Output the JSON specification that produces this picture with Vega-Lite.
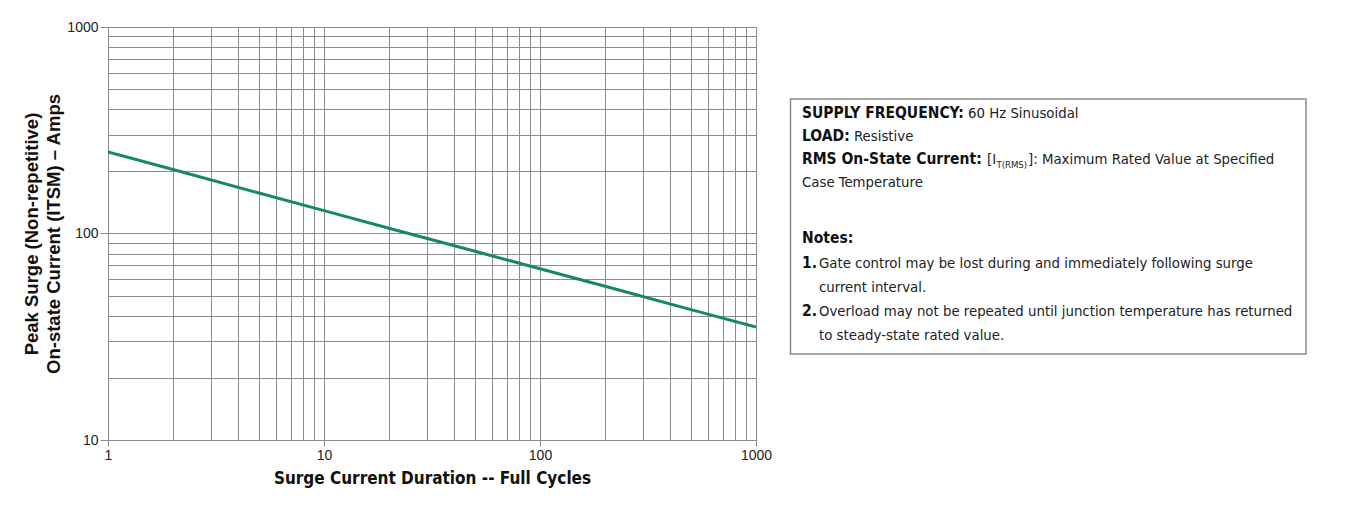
{
  "$schema": "https://vega.github.io/schema/vega-lite/v6.json",
  "background": "white",
  "padding": {"left": 22, "top": 19, "right": 5, "bottom": 5},
  "bounds": "flush",
  "spacing": 34,
  "config": {"view": {"stroke": null}},
  "datasets": {
    "surge": [
      {"cycles": 1, "amps": 248},
      {"cycles": 2, "amps": 204},
      {"cycles": 5, "amps": 157},
      {"cycles": 10, "amps": 129},
      {"cycles": 20, "amps": 106},
      {"cycles": 50, "amps": 82},
      {"cycles": 100, "amps": 67.5},
      {"cycles": 200, "amps": 55.5},
      {"cycles": 500, "amps": 42.8},
      {"cycles": 1000, "amps": 35.2}
    ],
    "notes": [
      {"x": 12, "y": 90.5, "t": "SUPPLY FREQUENCY:", "s": "b"},
      {"x": 178, "y": 90.5, "t": "60 Hz Sinusoidal", "s": "r"},
      {"x": 12, "y": 113.5, "t": "LOAD:", "s": "b"},
      {"x": 64, "y": 113.5, "t": "Resistive", "s": "r"},
      {"x": 12, "y": 136.5, "t": "RMS On-State Current:", "s": "b"},
      {"x": 197, "y": 136.5, "t": "[I", "s": "r"},
      {"x": 206.5, "y": 140.5, "t": "T(RMS)", "s": "sub"},
      {"x": 238, "y": 136.5, "t": "]: Maximum Rated Value at Specified", "s": "r"},
      {"x": 12, "y": 159.5, "t": "Case Temperature", "s": "r"},
      {"x": 12, "y": 215.5, "t": "Notes:", "s": "b"},
      {"x": 12, "y": 240.5, "t": "1.", "s": "b"},
      {"x": 29, "y": 240.5, "t": "Gate control may be lost during and immediately following surge", "s": "r"},
      {"x": 29, "y": 264.5, "t": "current interval.", "s": "r"},
      {"x": 12, "y": 288.5, "t": "2.", "s": "b"},
      {"x": 29, "y": 288.5, "t": "Overload may not be repeated until junction temperature has returned", "s": "r"},
      {"x": 29, "y": 312.5, "t": "to steady-state rated value.", "s": "r"}
    ],
    "box": [{"x": 0.5, "x2": 516, "y": 72, "y2": 327}]
  },
  "hconcat": [
    {
      "width": 648,
      "height": 413,
      "view": {"stroke": "#8c8c8c"},
      "data": {"name": "surge"},
      "mark": {"type": "line", "color": "#168a5c", "strokeWidth": 3, "clip": true},
      "encoding": {
        "x": {
          "field": "cycles",
          "type": "quantitative",
          "scale": {"type": "log", "domain": [1, 1000], "nice": false},
          "axis": {
            "title": "Surge Current Duration -- Full Cycles",
            "titleFont": "DejaVu Sans Condensed, sans-serif",
            "titleFontSize": 17,
            "titleFontWeight": "bold",
            "titleColor": "#111",
            "titlePadding": 8,
            "values": [1,2,3,4,5,6,7,8,9,10,20,30,40,50,60,70,80,90,100,200,300,400,500,600,700,800,900,1000],
            "labelExpr": "indexof([1,10,100,1000], datum.value) >= 0 ? format(datum.value, 'd') : ''",
            "labelOverlap": false,
            "labelFlush": false,
            "labelFont": "Liberation Sans, Arial, sans-serif",
            "labelFontSize": 14,
            "labelColor": "#222",
            "labelPadding": 2,
            "tickSize": 6,
            "tickColor": "#8c8c8c",
            "tickOpacity": {"condition": {"test": "indexof([1,10,100,1000], datum.value) >= 0", "value": 1}, "value": 0},
            "domainColor": "#8c8c8c",
            "grid": true,
            "gridColor": "#8c8c8c",
            "gridWidth": 1,
            "gridOpacity": 1
          }
        },
        "y": {
          "field": "amps",
          "type": "quantitative",
          "scale": {"type": "log", "domain": [10, 1000], "nice": false},
          "axis": {
            "title": ["Peak Surge (Non-repetitive)", "On-state Current (ITSM) – Amps"],
            "titleFont": "Liberation Sans, Arial, sans-serif",
            "titleFontSize": 18.5,
            "titleFontWeight": "bold",
            "titleColor": "#111",
            "titleLineHeight": 22,
            "titlePadding": 3,
            "values": [10,20,30,40,50,60,70,80,90,100,200,300,400,500,600,700,800,900,1000],
            "labelExpr": "indexof([10,100,1000], datum.value) >= 0 ? format(datum.value, 'd') : ''",
            "labelOverlap": false,
            "labelFlush": false,
            "labelFont": "Liberation Sans, Arial, sans-serif",
            "labelFontSize": 14,
            "labelColor": "#222",
            "labelPadding": 2,
            "tickSize": 8,
            "tickColor": "#8c8c8c",
            "tickOpacity": {"condition": {"test": "indexof([10,100,1000], datum.value) >= 0", "value": 1}, "value": 0},
            "domainColor": "#8c8c8c",
            "grid": true,
            "gridColor": "#8c8c8c",
            "gridWidth": 1,
            "gridOpacity": 1
          }
        }
      }
    },
    {
      "width": 520,
      "height": 413,
      "layer": [
        {
          "data": {"name": "box"},
          "mark": {"type": "rect", "fill": null, "stroke": "#8c8c8c", "strokeWidth": 1.5},
          "encoding": {
            "x": {"field": "x", "type": "quantitative", "scale": {"domain": [0, 520], "nice": false, "zero": false}, "axis": null},
            "x2": {"field": "x2"},
            "y": {"field": "y", "type": "quantitative", "scale": {"domain": [0, 413], "nice": false, "zero": false, "reverse": true}, "axis": null},
            "y2": {"field": "y2"}
          }
        },
        {
          "data": {"name": "notes"},
          "transform": [{"filter": "datum.s === 'b'"}],
          "mark": {"type": "text", "align": "left", "baseline": "alphabetic", "font": "DejaVu Sans Condensed, sans-serif", "fontSize": 15.5, "fontWeight": "bold", "color": "#111"},
          "encoding": {
            "x": {"field": "x", "type": "quantitative"},
            "y": {"field": "y", "type": "quantitative"},
            "text": {"field": "t"}
          }
        },
        {
          "data": {"name": "notes"},
          "transform": [{"filter": "datum.s === 'r'"}],
          "mark": {"type": "text", "align": "left", "baseline": "alphabetic", "font": "DejaVu Sans Condensed, sans-serif", "fontSize": 14.8, "fontWeight": "normal", "color": "#222"},
          "encoding": {
            "x": {"field": "x", "type": "quantitative"},
            "y": {"field": "y", "type": "quantitative"},
            "text": {"field": "t"}
          }
        },
        {
          "data": {"name": "notes"},
          "transform": [{"filter": "datum.s === 'sub'"}],
          "mark": {"type": "text", "align": "left", "baseline": "alphabetic", "font": "DejaVu Sans Condensed, sans-serif", "fontSize": 9.5, "fontWeight": "normal", "color": "#222"},
          "encoding": {
            "x": {"field": "x", "type": "quantitative"},
            "y": {"field": "y", "type": "quantitative"},
            "text": {"field": "t"}
          }
        }
      ]
    }
  ]
}
